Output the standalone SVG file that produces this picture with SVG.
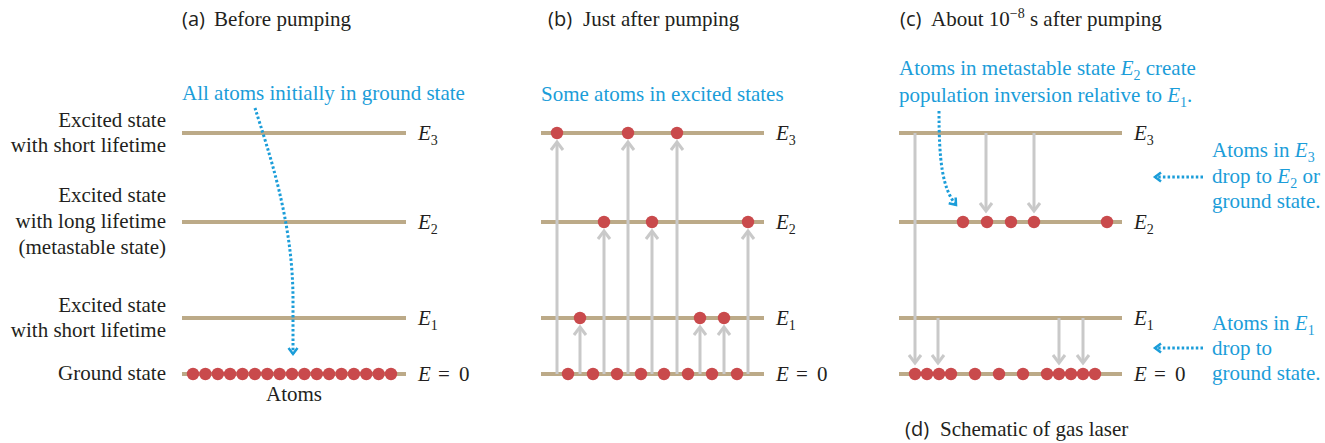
<svg xmlns="http://www.w3.org/2000/svg" width="1325" height="443" viewBox="0 0 1325 443">
<style>
text{font-family:"Liberation Serif","Times New Roman",serif;font-size:21px;fill:#231f20}
.sans{font-family:"Open Sans","Liberation Sans",sans-serif;font-size:20px}
.blue{fill:#1b9dd9}
.it{font-style:italic}
.sub{font-size:14px}
.lvl{stroke:#bcaa88;stroke-width:4}
.atom{fill:#c94a4c}
.up,.down{stroke:#c9c9c9;stroke-width:3;fill:none;marker-end:url(#chev)}
.dot{stroke:#1b9dd9;stroke-width:3;stroke-dasharray:2.5 2.2;fill:none;marker-end:url(#bchev)}
</style>
<defs>
<marker id="chev" viewBox="-10 -10 20 20" refX="0" refY="0" markerWidth="20" markerHeight="20" markerUnits="userSpaceOnUse" orient="auto">
<path d="M-8,-6 L0,0 L-8,6" fill="none" stroke="#c9c9c9" stroke-width="3"/>
</marker>
<marker id="bchev" viewBox="-10 -10 20 20" refX="0" refY="0" markerWidth="20" markerHeight="20" markerUnits="userSpaceOnUse" orient="auto">
<path d="M-6,-4.5 L0,0 L-6,4.5" fill="none" stroke="#1b9dd9" stroke-width="2.5"/>
</marker>
</defs>
<rect width="1325" height="443" fill="#ffffff"/>

<g id="titles">
<text x="182" y="26"><tspan class="sans">(a)</tspan><tspan x="214">Before pumping</tspan></text>
<text x="548" y="26"><tspan class="sans">(b)</tspan><tspan x="583">Just after pumping</tspan></text>
<text x="900" y="26"><tspan class="sans">(c)</tspan><tspan x="931">About 10</tspan><tspan font-size="14" dy="-8">−8</tspan><tspan dy="8"> s after pumping</tspan></text>
<text x="905" y="436"><tspan class="sans">(d)</tspan><tspan x="940">Schematic of gas laser</tspan></text>
</g>

<g id="panel-a">
<g id="a-labels" text-anchor="end">
<text x="166" y="127">Excited state</text>
<text x="166" y="152">with short lifetime</text>
<text x="166" y="202">Excited state</text>
<text x="166" y="228">with long lifetime</text>
<text x="166" y="254">(metastable state)</text>
<text x="166" y="312">Excited state</text>
<text x="166" y="337">with short lifetime</text>
<text x="166" y="380">Ground state</text>
</g>
<text class="blue" x="182" y="100">All atoms initially in ground state</text>
<g id="a-E3"><line class="lvl" x1="182" y1="133" x2="406" y2="133"/><text x="418" y="140"><tspan class="it">E</tspan><tspan class="sub" dy="5">3</tspan></text></g>
<g id="a-E2"><line class="lvl" x1="182" y1="222" x2="406" y2="222"/><text x="418" y="229"><tspan class="it">E</tspan><tspan class="sub" dy="5">2</tspan></text></g>
<g id="a-E1"><line class="lvl" x1="182" y1="318" x2="406" y2="318"/><text x="418" y="325"><tspan class="it">E</tspan><tspan class="sub" dy="5">1</tspan></text></g>
<g id="a-E0"><line class="lvl" x1="182" y1="374" x2="406" y2="374"/><text x="418" y="381"><tspan class="it">E</tspan><tspan x="438">=</tspan><tspan x="459">0</tspan></text></g>
<g id="a-atoms">
<circle class="atom" cx="193" cy="374" r="6.2"/><circle class="atom" cx="205.4" cy="374" r="6.2"/><circle class="atom" cx="217.8" cy="374" r="6.2"/><circle class="atom" cx="230.1" cy="374" r="6.2"/><circle class="atom" cx="242.5" cy="374" r="6.2"/><circle class="atom" cx="254.9" cy="374" r="6.2"/><circle class="atom" cx="267.3" cy="374" r="6.2"/><circle class="atom" cx="279.6" cy="374" r="6.2"/><circle class="atom" cx="292" cy="374" r="6.2"/><circle class="atom" cx="304.4" cy="374" r="6.2"/><circle class="atom" cx="316.8" cy="374" r="6.2"/><circle class="atom" cx="329.1" cy="374" r="6.2"/><circle class="atom" cx="341.5" cy="374" r="6.2"/><circle class="atom" cx="353.9" cy="374" r="6.2"/><circle class="atom" cx="366.3" cy="374" r="6.2"/><circle class="atom" cx="378.6" cy="374" r="6.2"/><circle class="atom" cx="391" cy="374" r="6.2"/>
</g>
<text x="294" y="401" text-anchor="middle">Atoms</text>
</g>

<g id="panel-b">
<text class="blue" x="541" y="101">Some atoms in excited states</text>
<g id="b-E3"><line class="lvl" x1="541" y1="133" x2="764" y2="133"/><text x="776" y="140"><tspan class="it">E</tspan><tspan class="sub" dy="5">3</tspan></text></g>
<g id="b-E2"><line class="lvl" x1="541" y1="222" x2="764" y2="222"/><text x="776" y="229"><tspan class="it">E</tspan><tspan class="sub" dy="5">2</tspan></text></g>
<g id="b-E1"><line class="lvl" x1="541" y1="318" x2="764" y2="318"/><text x="776" y="325"><tspan class="it">E</tspan><tspan class="sub" dy="5">1</tspan></text></g>
<g id="b-E0"><line class="lvl" x1="541" y1="374" x2="764" y2="374"/><text x="776" y="381"><tspan class="it">E</tspan><tspan x="796">=</tspan><tspan x="817">0</tspan></text></g>
</g>

<g id="panel-c">
<text class="blue" x="899" y="75">Atoms in metastable state <tspan class="it">E</tspan><tspan class="sub" dy="5">2</tspan><tspan dy="-5"> create</tspan></text>
<text class="blue" x="899" y="102">population inversion relative to <tspan class="it">E</tspan><tspan class="sub" dy="5">1</tspan><tspan dy="-5">.</tspan></text>
<g id="c-E3"><line class="lvl" x1="899" y1="133" x2="1122" y2="133"/><text x="1134" y="140"><tspan class="it">E</tspan><tspan class="sub" dy="5">3</tspan></text></g>
<g id="c-E2"><line class="lvl" x1="899" y1="222" x2="1122" y2="222"/><text x="1134" y="229"><tspan class="it">E</tspan><tspan class="sub" dy="5">2</tspan></text></g>
<g id="c-E1"><line class="lvl" x1="899" y1="318" x2="1122" y2="318"/><text x="1134" y="325"><tspan class="it">E</tspan><tspan class="sub" dy="5">1</tspan></text></g>
<g id="c-E0"><line class="lvl" x1="899" y1="374" x2="1122" y2="374"/><text x="1134" y="381"><tspan class="it">E</tspan><tspan x="1154">=</tspan><tspan x="1175">0</tspan></text></g>
<g id="c-note3">
<text class="blue" x="1212" y="157">Atoms in <tspan class="it">E</tspan><tspan class="sub" dy="5">3</tspan></text>
<text class="blue" x="1212" y="183">drop to <tspan class="it">E</tspan><tspan class="sub" dy="5">2</tspan><tspan dy="-5"> or</tspan></text>
<text class="blue" x="1212" y="208">ground state.</text>
</g>
<g id="c-note1">
<text class="blue" x="1212" y="330">Atoms in <tspan class="it">E</tspan><tspan class="sub" dy="5">1</tspan></text>
<text class="blue" x="1212" y="355">drop to</text>
<text class="blue" x="1212" y="380">ground state.</text>
</g>
</g>

<g id="connectors">
<path class="dot" d="M255,108 C268,150 293,220 293,300 L293,354"/>
<path class="up" d="M557,374 V142"/>
<path class="up" d="M580,374 V327"/>
<path class="up" d="M604,374 V231"/>
<path class="up" d="M628,374 V142"/>
<path class="up" d="M652,374 V231"/>
<path class="up" d="M677,374 V142"/>
<path class="up" d="M700,374 V327"/>
<path class="up" d="M724,374 V327"/>
<path class="up" d="M748,374 V231"/>
<path class="down" d="M915,133 V363"/>
<path class="down" d="M986,133 V211"/>
<path class="down" d="M1034,133 V211"/>
<path class="down" d="M938,318 V363"/>
<path class="down" d="M1059,318 V363"/>
<path class="down" d="M1083,318 V363"/>
<path class="dot" d="M939,111 C939,160 942,188 956,205"/>
<path class="dot" d="M1203,177 H1155"/>
<path class="dot" d="M1203,348 H1155"/>
</g>

<g id="b-atoms">
<circle class="atom" cx="557" cy="133" r="6.2"/><circle class="atom" cx="628" cy="133" r="6.2"/><circle class="atom" cx="677" cy="133" r="6.2"/>
<circle class="atom" cx="604" cy="222" r="6.2"/><circle class="atom" cx="652" cy="222" r="6.2"/><circle class="atom" cx="748" cy="222" r="6.2"/>
<circle class="atom" cx="580" cy="318" r="6.2"/><circle class="atom" cx="700" cy="318" r="6.2"/><circle class="atom" cx="724" cy="318" r="6.2"/>
<circle class="atom" cx="568" cy="374" r="6.2"/><circle class="atom" cx="593" cy="374" r="6.2"/><circle class="atom" cx="617" cy="374" r="6.2"/><circle class="atom" cx="641" cy="374" r="6.2"/><circle class="atom" cx="664" cy="374" r="6.2"/><circle class="atom" cx="688" cy="374" r="6.2"/><circle class="atom" cx="712" cy="374" r="6.2"/><circle class="atom" cx="737" cy="374" r="6.2"/>
</g>
<g id="c-atoms">
<circle class="atom" cx="963" cy="222" r="6.2"/><circle class="atom" cx="987" cy="222" r="6.2"/><circle class="atom" cx="1011" cy="222" r="6.2"/><circle class="atom" cx="1034" cy="222" r="6.2"/><circle class="atom" cx="1107" cy="222" r="6.2"/>
<circle class="atom" cx="915" cy="374" r="6.2"/><circle class="atom" cx="927" cy="374" r="6.2"/><circle class="atom" cx="939" cy="374" r="6.2"/><circle class="atom" cx="951" cy="374" r="6.2"/><circle class="atom" cx="975" cy="374" r="6.2"/><circle class="atom" cx="999" cy="374" r="6.2"/><circle class="atom" cx="1023" cy="374" r="6.2"/><circle class="atom" cx="1047" cy="374" r="6.2"/><circle class="atom" cx="1059" cy="374" r="6.2"/><circle class="atom" cx="1071" cy="374" r="6.2"/><circle class="atom" cx="1083" cy="374" r="6.2"/><circle class="atom" cx="1095" cy="374" r="6.2"/>
</g>
</svg>
